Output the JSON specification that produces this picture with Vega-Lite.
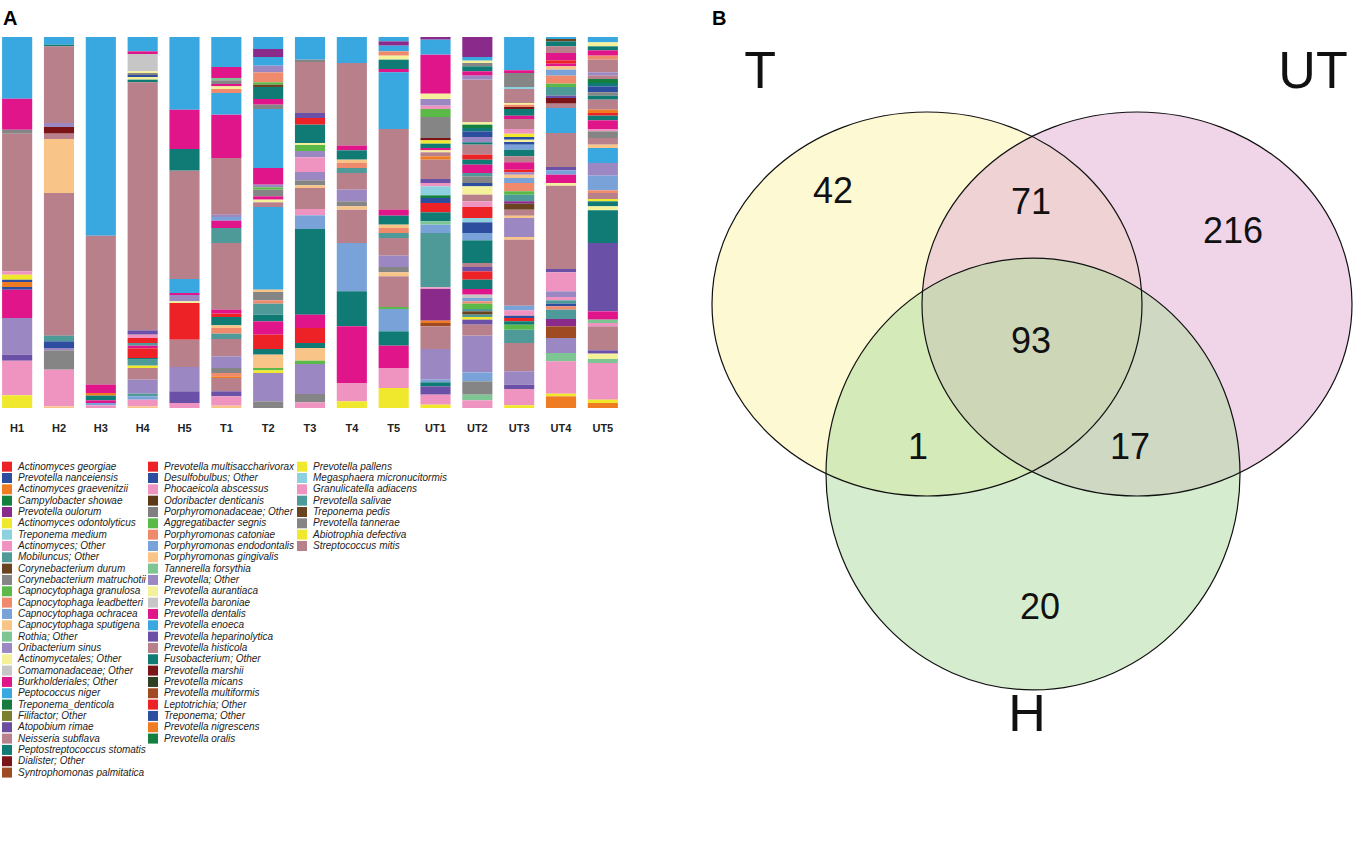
{
"$schema": "https://vega.github.io/schema/vega-lite/v6.json",
"background": "white",
"padding": {"left": 0, "top": 9, "right": 0, "bottom": 0},
"spacing": 80,
"config": {"view": {"stroke": null}, "font": "Arial, Liberation Sans, sans-serif"},
"datasets": {
"taxa": [
{"k":1,"t":"Actinomyces georgiae"},{"k":2,"t":"Prevotella nanceiensis"},{"k":3,"t":"Actinomyces graevenitzii"},{"k":4,"t":"Campylobacter showae"},{"k":5,"t":"Prevotella oulorum"},{"k":6,"t":"Actinomyces odontolyticus"},{"k":7,"t":"Treponema medium"},{"k":8,"t":"Actinomyces; Other"},{"k":9,"t":"Mobiluncus; Other"},{"k":10,"t":"Corynebacterium durum"},{"k":11,"t":"Corynebacterium matruchotii"},{"k":12,"t":"Capnocytophaga granulosa"},{"k":13,"t":"Capnocytophaga leadbetteri"},{"k":14,"t":"Capnocytophaga ochracea"},{"k":15,"t":"Capnocytophaga sputigena"},{"k":16,"t":"Rothia; Other"},{"k":17,"t":"Oribacterium sinus"},{"k":18,"t":"Actinomycetales; Other"},{"k":19,"t":"Comamonadaceae; Other"},{"k":20,"t":"Burkholderiales; Other"},{"k":21,"t":"Peptococcus niger"},{"k":22,"t":"Treponema_denticola"},{"k":23,"t":"Filifactor; Other"},{"k":24,"t":"Atopobium rimae"},{"k":25,"t":"Neisseria subflava"},{"k":26,"t":"Peptostreptococcus stomatis"},{"k":27,"t":"Dialister; Other"},{"k":28,"t":"Syntrophomonas palmitatica"},
{"k":29,"t":"Prevotella multisaccharivorax"},{"k":30,"t":"Desulfobulbus; Other"},{"k":31,"t":"Phocaeicola abscessus"},{"k":32,"t":"Odoribacter denticanis"},{"k":33,"t":"Porphyromonadaceae; Other"},{"k":34,"t":"Aggregatibacter segnis"},{"k":35,"t":"Porphyromonas catoniae"},{"k":36,"t":"Porphyromonas endodontalis"},{"k":37,"t":"Porphyromonas gingivalis"},{"k":38,"t":"Tannerella forsythia"},{"k":39,"t":"Prevotella; Other"},{"k":40,"t":"Prevotella aurantiaca"},{"k":41,"t":"Prevotella baroniae"},{"k":42,"t":"Prevotella dentalis"},{"k":43,"t":"Prevotella enoeca"},{"k":44,"t":"Prevotella heparinolytica"},{"k":45,"t":"Prevotella histicola"},{"k":46,"t":"Fusobacterium; Other"},{"k":47,"t":"Prevotella marshii"},{"k":48,"t":"Prevotella micans"},{"k":49,"t":"Prevotella multiformis"},{"k":50,"t":"Leptotrichia; Other"},{"k":51,"t":"Treponema; Other"},{"k":52,"t":"Prevotella nigrescens"},{"k":53,"t":"Prevotella oralis"},
{"k":54,"t":"Prevotella pallens"},{"k":55,"t":"Megasphaera micronucitormis"},{"k":56,"t":"Granulicatella adiacens"},{"k":57,"t":"Prevotella salivae"},{"k":58,"t":"Treponema pedis"},{"k":59,"t":"Prevotella tannerae"},{"k":60,"t":"Abiotrophia defectiva"},{"k":61,"t":"Streptococcus mitis"}
],
"bars": [
{"s":"H1","i":0,"t":"Prevotella enoeca","v":185},{"s":"H1","i":1,"t":"Prevotella dentalis","v":93},{"s":"H1","i":2,"t":"Prevotella tannerae","v":12},{"s":"H1","i":3,"t":"Streptococcus mitis","v":413},{"s":"H1","i":4,"t":"Granulicatella adiacens","v":10},{"s":"H1","i":5,"t":"Prevotella pallens","v":15},{"s":"H1","i":6,"t":"Treponema; Other","v":7},{"s":"H1","i":7,"t":"Prevotella nigrescens","v":15},{"s":"H1","i":8,"t":"Treponema; Other","v":8},{"s":"H1","i":9,"t":"Prevotella dentalis","v":85},{"s":"H1","i":10,"t":"Prevotella; Other","v":110},{"s":"H1","i":11,"t":"Prevotella heparinolytica","v":18},{"s":"H1","i":12,"t":"Granulicatella adiacens","v":104},{"s":"H1","i":13,"t":"Prevotella pallens","v":38},
{"s":"H2","i":0,"t":"Prevotella enoeca","v":23},{"s":"H2","i":1,"t":"Fusobacterium; Other","v":5},{"s":"H2","i":2,"t":"Streptococcus mitis","v":230},{"s":"H2","i":3,"t":"Prevotella; Other","v":12},{"s":"H2","i":4,"t":"Prevotella marshii","v":20},{"s":"H2","i":5,"t":"Streptococcus mitis","v":16},{"s":"H2","i":6,"t":"Porphyromonas gingivalis","v":162},{"s":"H2","i":7,"t":"Streptococcus mitis","v":428},{"s":"H2","i":8,"t":"Prevotella salivae","v":17},{"s":"H2","i":9,"t":"Treponema; Other","v":20},{"s":"H2","i":10,"t":"Prevotella; Other","v":7},{"s":"H2","i":11,"t":"Prevotella tannerae","v":58},{"s":"H2","i":12,"t":"Granulicatella adiacens","v":110},{"s":"H2","i":13,"t":"Porphyromonas gingivalis","v":5},
{"s":"H3","i":0,"t":"Prevotella enoeca","v":596},{"s":"H3","i":1,"t":"Streptococcus mitis","v":447},{"s":"H3","i":2,"t":"Prevotella dentalis","v":25},{"s":"H3","i":3,"t":"Prevotella nigrescens","v":8},{"s":"H3","i":4,"t":"Fusobacterium; Other","v":14},{"s":"H3","i":5,"t":"Prevotella dentalis","v":8},{"s":"H3","i":6,"t":"Porphyromonas endodontalis","v":7},{"s":"H3","i":7,"t":"Granulicatella adiacens","v":8},
{"s":"H4","i":0,"t":"Prevotella enoeca","v":43},{"s":"H4","i":1,"t":"Prevotella dentalis","v":8},{"s":"H4","i":2,"t":"Prevotella baroniae","v":52},{"s":"H4","i":3,"t":"Prevotella aurantiaca","v":5},{"s":"H4","i":4,"t":"Prevotella tannerae","v":6},{"s":"H4","i":5,"t":"Treponema; Other","v":6},{"s":"H4","i":6,"t":"Prevotella aurantiaca","v":8},{"s":"H4","i":7,"t":"Fusobacterium; Other","v":8},{"s":"H4","i":8,"t":"Streptococcus mitis","v":744},{"s":"H4","i":9,"t":"Prevotella heparinolytica","v":13},{"s":"H4","i":10,"t":"Granulicatella adiacens","v":10},{"s":"H4","i":11,"t":"Leptotrichia; Other","v":15},{"s":"H4","i":12,"t":"Prevotella salivae","v":8},{"s":"H4","i":13,"t":"Prevotella dentalis","v":8},{"s":"H4","i":14,"t":"Leptotrichia; Other","v":29},{"s":"H4","i":15,"t":"Fusobacterium; Other","v":5},{"s":"H4","i":16,"t":"Prevotella salivae","v":18},{"s":"H4","i":17,"t":"Prevotella pallens","v":7},{"s":"H4","i":18,"t":"Streptococcus mitis","v":35},{"s":"H4","i":19,"t":"Prevotella; Other","v":42},{"s":"H4","i":20,"t":"Prevotella salivae","v":8},{"s":"H4","i":21,"t":"Porphyromonas endodontalis","v":10},{"s":"H4","i":22,"t":"Granulicatella adiacens","v":20},{"s":"H4","i":23,"t":"Porphyromonas gingivalis","v":5},
{"s":"H5","i":0,"t":"Prevotella enoeca","v":218},{"s":"H5","i":1,"t":"Prevotella dentalis","v":118},{"s":"H5","i":2,"t":"Fusobacterium; Other","v":65},{"s":"H5","i":3,"t":"Streptococcus mitis","v":325},{"s":"H5","i":4,"t":"Prevotella enoeca","v":42},{"s":"H5","i":5,"t":"Prevotella dentalis","v":6},{"s":"H5","i":6,"t":"Prevotella; Other","v":19},{"s":"H5","i":7,"t":"Prevotella aurantiaca","v":5},{"s":"H5","i":8,"t":"Leptotrichia; Other","v":110},{"s":"H5","i":9,"t":"Streptococcus mitis","v":82},{"s":"H5","i":10,"t":"Prevotella; Other","v":73},{"s":"H5","i":11,"t":"Prevotella heparinolytica","v":35},{"s":"H5","i":12,"t":"Granulicatella adiacens","v":15},
{"s":"T1","i":0,"t":"Prevotella enoeca","v":90},{"s":"T1","i":1,"t":"Prevotella dentalis","v":33},{"s":"T1","i":2,"t":"Tannerella forsythia","v":7},{"s":"T1","i":3,"t":"Prevotella tannerae","v":11},{"s":"T1","i":4,"t":"Prevotella dentalis","v":7},{"s":"T1","i":5,"t":"Prevotella aurantiaca","v":8},{"s":"T1","i":6,"t":"Porphyromonas catoniae","v":12},{"s":"T1","i":7,"t":"Prevotella enoeca","v":65},{"s":"T1","i":8,"t":"Prevotella dentalis","v":130},{"s":"T1","i":9,"t":"Streptococcus mitis","v":170},{"s":"T1","i":10,"t":"Prevotella; Other","v":7},{"s":"T1","i":11,"t":"Porphyromonas endodontalis","v":11},{"s":"T1","i":12,"t":"Prevotella dentalis","v":22},{"s":"T1","i":13,"t":"Prevotella salivae","v":45},{"s":"T1","i":14,"t":"Streptococcus mitis","v":200},{"s":"T1","i":15,"t":"Prevotella dentalis","v":12},{"s":"T1","i":16,"t":"Leptotrichia; Other","v":10},{"s":"T1","i":17,"t":"Fusobacterium; Other","v":25},{"s":"T1","i":18,"t":"Porphyromonas gingivalis","v":8},{"s":"T1","i":19,"t":"Porphyromonas catoniae","v":17},{"s":"T1","i":20,"t":"Prevotella salivae","v":16},{"s":"T1","i":21,"t":"Streptococcus mitis","v":52},{"s":"T1","i":22,"t":"Prevotella; Other","v":35},{"s":"T1","i":23,"t":"Prevotella tannerae","v":15},{"s":"T1","i":24,"t":"Porphyromonas catoniae","v":10},{"s":"T1","i":25,"t":"Prevotella nigrescens","v":5},{"s":"T1","i":26,"t":"Streptococcus mitis","v":40},{"s":"T1","i":27,"t":"Prevotella heparinolytica","v":15},{"s":"T1","i":28,"t":"Granulicatella adiacens","v":28},{"s":"T1","i":29,"t":"Porphyromonas gingivalis","v":7},
{"s":"T2","i":0,"t":"Prevotella enoeca","v":36},{"s":"T2","i":1,"t":"Prevotella oulorum","v":24},{"s":"T2","i":2,"t":"Prevotella enoeca","v":26},{"s":"T2","i":3,"t":"Prevotella; Other","v":20},{"s":"T2","i":4,"t":"Porphyromonas catoniae","v":30},{"s":"T2","i":5,"t":"Aggregatibacter segnis","v":7},{"s":"T2","i":6,"t":"Treponema pedis","v":7},{"s":"T2","i":7,"t":"Fusobacterium; Other","v":36},{"s":"T2","i":8,"t":"Prevotella dentalis","v":17},{"s":"T2","i":9,"t":"Prevotella tannerae","v":13},{"s":"T2","i":10,"t":"Prevotella enoeca","v":177},{"s":"T2","i":11,"t":"Prevotella dentalis","v":50},{"s":"T2","i":12,"t":"Prevotella; Other","v":8},{"s":"T2","i":13,"t":"Aggregatibacter segnis","v":7},{"s":"T2","i":14,"t":"Prevotella tannerae","v":20},{"s":"T2","i":15,"t":"Prevotella dentalis","v":10},{"s":"T2","i":16,"t":"Prevotella aurantiaca","v":8},{"s":"T2","i":17,"t":"Streptococcus mitis","v":14},{"s":"T2","i":18,"t":"Prevotella enoeca","v":248},{"s":"T2","i":19,"t":"Porphyromonas gingivalis","v":7},{"s":"T2","i":20,"t":"Prevotella tannerae","v":25},{"s":"T2","i":21,"t":"Porphyromonas catoniae","v":10},{"s":"T2","i":22,"t":"Prevotella salivae","v":33},{"s":"T2","i":23,"t":"Fusobacterium; Other","v":20},{"s":"T2","i":24,"t":"Prevotella dentalis","v":40},{"s":"T2","i":25,"t":"Leptotrichia; Other","v":43},{"s":"T2","i":26,"t":"Fusobacterium; Other","v":17},{"s":"T2","i":27,"t":"Porphyromonas gingivalis","v":40},{"s":"T2","i":28,"t":"Aggregatibacter segnis","v":7},{"s":"T2","i":29,"t":"Prevotella pallens","v":8},{"s":"T2","i":30,"t":"Prevotella; Other","v":85},{"s":"T2","i":31,"t":"Prevotella tannerae","v":20},
{"s":"T3","i":0,"t":"Prevotella enoeca","v":68},{"s":"T3","i":1,"t":"Prevotella tannerae","v":7},{"s":"T3","i":2,"t":"Streptococcus mitis","v":153},{"s":"T3","i":3,"t":"Prevotella heparinolytica","v":15},{"s":"T3","i":4,"t":"Leptotrichia; Other","v":20},{"s":"T3","i":5,"t":"Fusobacterium; Other","v":55},{"s":"T3","i":6,"t":"Prevotella aurantiaca","v":6},{"s":"T3","i":7,"t":"Aggregatibacter segnis","v":18},{"s":"T3","i":8,"t":"Prevotella; Other","v":19},{"s":"T3","i":9,"t":"Granulicatella adiacens","v":44},{"s":"T3","i":10,"t":"Prevotella; Other","v":25},{"s":"T3","i":11,"t":"Prevotella tannerae","v":15},{"s":"T3","i":12,"t":"Porphyromonas gingivalis","v":8},{"s":"T3","i":13,"t":"Streptococcus mitis","v":63},{"s":"T3","i":14,"t":"Granulicatella adiacens","v":19},{"s":"T3","i":15,"t":"Porphyromonas endodontalis","v":41},{"s":"T3","i":16,"t":"Fusobacterium; Other","v":257},{"s":"T3","i":17,"t":"Prevotella dentalis","v":40},{"s":"T3","i":18,"t":"Leptotrichia; Other","v":45},{"s":"T3","i":19,"t":"Fusobacterium; Other","v":15},{"s":"T3","i":20,"t":"Porphyromonas gingivalis","v":38},{"s":"T3","i":21,"t":"Aggregatibacter segnis","v":10},{"s":"T3","i":22,"t":"Prevotella; Other","v":90},{"s":"T3","i":23,"t":"Prevotella tannerae","v":25},{"s":"T3","i":24,"t":"Granulicatella adiacens","v":17},
{"s":"T4","i":0,"t":"Prevotella enoeca","v":78},{"s":"T4","i":1,"t":"Streptococcus mitis","v":248},{"s":"T4","i":2,"t":"Prevotella dentalis","v":14},{"s":"T4","i":3,"t":"Fusobacterium; Other","v":28},{"s":"T4","i":4,"t":"Porphyromonas gingivalis","v":10},{"s":"T4","i":5,"t":"Porphyromonas catoniae","v":15},{"s":"T4","i":6,"t":"Prevotella salivae","v":15},{"s":"T4","i":7,"t":"Streptococcus mitis","v":50},{"s":"T4","i":8,"t":"Prevotella; Other","v":35},{"s":"T4","i":9,"t":"Prevotella tannerae","v":15},{"s":"T4","i":10,"t":"Porphyromonas gingivalis","v":10},{"s":"T4","i":11,"t":"Streptococcus mitis","v":100},{"s":"T4","i":12,"t":"Porphyromonas endodontalis","v":145},{"s":"T4","i":13,"t":"Fusobacterium; Other","v":105},{"s":"T4","i":14,"t":"Prevotella dentalis","v":170},{"s":"T4","i":15,"t":"Granulicatella adiacens","v":55},{"s":"T4","i":16,"t":"Prevotella pallens","v":20},
{"s":"T5","i":0,"t":"Prevotella enoeca","v":13},{"s":"T5","i":1,"t":"Prevotella oulorum","v":13},{"s":"T5","i":2,"t":"Prevotella enoeca","v":17},{"s":"T5","i":3,"t":"Porphyromonas catoniae","v":13},{"s":"T5","i":4,"t":"Prevotella aurantiaca","v":12},{"s":"T5","i":5,"t":"Fusobacterium; Other","v":28},{"s":"T5","i":6,"t":"Prevotella dentalis","v":10},{"s":"T5","i":7,"t":"Prevotella enoeca","v":170},{"s":"T5","i":8,"t":"Streptococcus mitis","v":242},{"s":"T5","i":9,"t":"Prevotella dentalis","v":18},{"s":"T5","i":10,"t":"Fusobacterium; Other","v":27},{"s":"T5","i":11,"t":"Porphyromonas gingivalis","v":10},{"s":"T5","i":12,"t":"Porphyromonas catoniae","v":15},{"s":"T5","i":13,"t":"Prevotella salivae","v":15},{"s":"T5","i":14,"t":"Streptococcus mitis","v":53},{"s":"T5","i":15,"t":"Prevotella; Other","v":34},{"s":"T5","i":16,"t":"Prevotella tannerae","v":16},{"s":"T5","i":17,"t":"Porphyromonas gingivalis","v":12},{"s":"T5","i":18,"t":"Streptococcus mitis","v":92},{"s":"T5","i":19,"t":"Aggregatibacter segnis","v":6},{"s":"T5","i":20,"t":"Porphyromonas endodontalis","v":67},{"s":"T5","i":21,"t":"Fusobacterium; Other","v":43},{"s":"T5","i":22,"t":"Prevotella dentalis","v":67},{"s":"T5","i":23,"t":"Granulicatella adiacens","v":60},{"s":"T5","i":24,"t":"Prevotella pallens","v":60},
{"s":"UT1","i":0,"t":"Prevotella oulorum","v":8},{"s":"UT1","i":1,"t":"Prevotella enoeca","v":45},{"s":"UT1","i":2,"t":"Prevotella dentalis","v":117},{"s":"UT1","i":3,"t":"Prevotella aurantiaca","v":16},{"s":"UT1","i":4,"t":"Prevotella; Other","v":20},{"s":"UT1","i":5,"t":"Granulicatella adiacens","v":10},{"s":"UT1","i":6,"t":"Aggregatibacter segnis","v":24},{"s":"UT1","i":7,"t":"Prevotella tannerae","v":63},{"s":"UT1","i":8,"t":"Prevotella marshii","v":7},{"s":"UT1","i":9,"t":"Prevotella pallens","v":10},{"s":"UT1","i":10,"t":"Fusobacterium; Other","v":13},{"s":"UT1","i":11,"t":"Prevotella dentalis","v":7},{"s":"UT1","i":12,"t":"Prevotella aurantiaca","v":6},{"s":"UT1","i":13,"t":"Streptococcus mitis","v":12},{"s":"UT1","i":14,"t":"Prevotella nigrescens","v":10},{"s":"UT1","i":15,"t":"Streptococcus mitis","v":58},{"s":"UT1","i":16,"t":"Prevotella heparinolytica","v":12},{"s":"UT1","i":17,"t":"Granulicatella adiacens","v":10},{"s":"UT1","i":18,"t":"Megasphaera micronucitormis","v":27},{"s":"UT1","i":19,"t":"Prevotella oralis","v":8},{"s":"UT1","i":20,"t":"Treponema; Other","v":15},{"s":"UT1","i":21,"t":"Leptotrichia; Other","v":28},{"s":"UT1","i":22,"t":"Fusobacterium; Other","v":27},{"s":"UT1","i":23,"t":"Tannerella forsythia","v":10},{"s":"UT1","i":24,"t":"Porphyromonas endodontalis","v":25},{"s":"UT1","i":25,"t":"Prevotella salivae","v":163},{"s":"UT1","i":26,"t":"Granulicatella adiacens","v":5},{"s":"UT1","i":27,"t":"Prevotella oulorum","v":95},{"s":"UT1","i":28,"t":"Prevotella nigrescens","v":7},{"s":"UT1","i":29,"t":"Prevotella multiformis","v":10},{"s":"UT1","i":30,"t":"Streptococcus mitis","v":68},{"s":"UT1","i":31,"t":"Prevotella; Other","v":92},{"s":"UT1","i":32,"t":"Porphyromonas endodontalis","v":8},{"s":"UT1","i":33,"t":"Fusobacterium; Other","v":12},{"s":"UT1","i":34,"t":"Prevotella heparinolytica","v":25},{"s":"UT1","i":35,"t":"Granulicatella adiacens","v":30},{"s":"UT1","i":36,"t":"Prevotella pallens","v":10},
{"s":"UT2","i":0,"t":"Prevotella oulorum","v":60},{"s":"UT2","i":1,"t":"Prevotella enoeca","v":11},{"s":"UT2","i":2,"t":"Prevotella aurantiaca","v":7},{"s":"UT2","i":3,"t":"Prevotella tannerae","v":10},{"s":"UT2","i":4,"t":"Fusobacterium; Other","v":15},{"s":"UT2","i":5,"t":"Prevotella dentalis","v":13},{"s":"UT2","i":6,"t":"Prevotella; Other","v":12},{"s":"UT2","i":7,"t":"Streptococcus mitis","v":128},{"s":"UT2","i":8,"t":"Prevotella aurantiaca","v":7},{"s":"UT2","i":9,"t":"Prevotella oralis","v":10},{"s":"UT2","i":10,"t":"Fusobacterium; Other","v":10},{"s":"UT2","i":11,"t":"Treponema; Other","v":17},{"s":"UT2","i":12,"t":"Prevotella; Other","v":16},{"s":"UT2","i":13,"t":"Fusobacterium; Other","v":7},{"s":"UT2","i":14,"t":"Streptococcus mitis","v":30},{"s":"UT2","i":15,"t":"Leptotrichia; Other","v":15},{"s":"UT2","i":16,"t":"Fusobacterium; Other","v":15},{"s":"UT2","i":17,"t":"Prevotella dentalis","v":25},{"s":"UT2","i":18,"t":"Prevotella salivae","v":10},{"s":"UT2","i":19,"t":"Prevotella tannerae","v":20},{"s":"UT2","i":20,"t":"Treponema; Other","v":10},{"s":"UT2","i":21,"t":"Prevotella aurantiaca","v":25},{"s":"UT2","i":22,"t":"Streptococcus mitis","v":20},{"s":"UT2","i":23,"t":"Granulicatella adiacens","v":17},{"s":"UT2","i":24,"t":"Leptotrichia; Other","v":33},{"s":"UT2","i":25,"t":"Megasphaera micronucitormis","v":13},{"s":"UT2","i":26,"t":"Treponema; Other","v":32},{"s":"UT2","i":27,"t":"Porphyromonas endodontalis","v":22},{"s":"UT2","i":28,"t":"Fusobacterium; Other","v":68},{"s":"UT2","i":29,"t":"Streptococcus mitis","v":12},{"s":"UT2","i":30,"t":"Prevotella heparinolytica","v":13},{"s":"UT2","i":31,"t":"Leptotrichia; Other","v":25},{"s":"UT2","i":32,"t":"Fusobacterium; Other","v":28},{"s":"UT2","i":33,"t":"Prevotella dentalis","v":17},{"s":"UT2","i":34,"t":"Prevotella baroniae","v":10},{"s":"UT2","i":35,"t":"Porphyromonas endodontalis","v":10},{"s":"UT2","i":36,"t":"Porphyromonas catoniae","v":7},{"s":"UT2","i":37,"t":"Aggregatibacter segnis","v":16},{"s":"UT2","i":38,"t":"Prevotella salivae","v":7},{"s":"UT2","i":39,"t":"Treponema pedis","v":10},{"s":"UT2","i":40,"t":"Prevotella salivae","v":7},{"s":"UT2","i":41,"t":"Prevotella pallens","v":8},{"s":"UT2","i":42,"t":"Prevotella heparinolytica","v":15},{"s":"UT2","i":43,"t":"Streptococcus mitis","v":33},{"s":"UT2","i":44,"t":"Prevotella; Other","v":110},{"s":"UT2","i":45,"t":"Porphyromonas endodontalis","v":27},{"s":"UT2","i":46,"t":"Prevotella tannerae","v":40},{"s":"UT2","i":47,"t":"Tannerella forsythia","v":17},{"s":"UT2","i":48,"t":"Granulicatella adiacens","v":23},
{"s":"UT3","i":0,"t":"Prevotella enoeca","v":100},{"s":"UT3","i":1,"t":"Prevotella dentalis","v":8},{"s":"UT3","i":2,"t":"Prevotella tannerae","v":42},{"s":"UT3","i":3,"t":"Megasphaera micronucitormis","v":6},{"s":"UT3","i":4,"t":"Streptococcus mitis","v":42},{"s":"UT3","i":5,"t":"Prevotella aurantiaca","v":5},{"s":"UT3","i":6,"t":"Porphyromonas catoniae","v":7},{"s":"UT3","i":7,"t":"Prevotella marshii","v":6},{"s":"UT3","i":8,"t":"Fusobacterium; Other","v":20},{"s":"UT3","i":9,"t":"Prevotella dentalis","v":10},{"s":"UT3","i":10,"t":"Streptococcus mitis","v":30},{"s":"UT3","i":11,"t":"Granulicatella adiacens","v":14},{"s":"UT3","i":12,"t":"Prevotella pallens","v":10},{"s":"UT3","i":13,"t":"Treponema; Other","v":8},{"s":"UT3","i":14,"t":"Prevotella aurantiaca","v":7},{"s":"UT3","i":15,"t":"Treponema; Other","v":8},{"s":"UT3","i":16,"t":"Porphyromonas endodontalis","v":15},{"s":"UT3","i":17,"t":"Fusobacterium; Other","v":20},{"s":"UT3","i":18,"t":"Streptococcus mitis","v":18},{"s":"UT3","i":19,"t":"Prevotella dentalis","v":22},{"s":"UT3","i":20,"t":"Leptotrichia; Other","v":8},{"s":"UT3","i":21,"t":"Prevotella; Other","v":7},{"s":"UT3","i":22,"t":"Porphyromonas gingivalis","v":10},{"s":"UT3","i":23,"t":"Porphyromonas endodontalis","v":15},{"s":"UT3","i":24,"t":"Porphyromonas catoniae","v":25},{"s":"UT3","i":25,"t":"Aggregatibacter segnis","v":10},{"s":"UT3","i":26,"t":"Prevotella salivae","v":20},{"s":"UT3","i":27,"t":"Prevotella oulorum","v":7},{"s":"UT3","i":28,"t":"Treponema pedis","v":18},{"s":"UT3","i":29,"t":"Streptococcus mitis","v":18},{"s":"UT3","i":30,"t":"Porphyromonas gingivalis","v":7},{"s":"UT3","i":31,"t":"Prevotella; Other","v":57},{"s":"UT3","i":32,"t":"Porphyromonas gingivalis","v":8},{"s":"UT3","i":33,"t":"Streptococcus mitis","v":198},{"s":"UT3","i":34,"t":"Porphyromonas endodontalis","v":14},{"s":"UT3","i":35,"t":"Granulicatella adiacens","v":16},{"s":"UT3","i":36,"t":"Treponema; Other","v":7},{"s":"UT3","i":37,"t":"Leptotrichia; Other","v":10},{"s":"UT3","i":38,"t":"Fusobacterium; Other","v":10},{"s":"UT3","i":39,"t":"Aggregatibacter segnis","v":15},{"s":"UT3","i":40,"t":"Prevotella salivae","v":40},{"s":"UT3","i":41,"t":"Streptococcus mitis","v":85},{"s":"UT3","i":42,"t":"Prevotella; Other","v":40},{"s":"UT3","i":43,"t":"Prevotella heparinolytica","v":13},{"s":"UT3","i":44,"t":"Granulicatella adiacens","v":49},{"s":"UT3","i":45,"t":"Prevotella pallens","v":8},
{"s":"UT4","i":0,"t":"Prevotella enoeca","v":6},{"s":"UT4","i":1,"t":"Treponema pedis","v":7},{"s":"UT4","i":2,"t":"Fusobacterium; Other","v":15},{"s":"UT4","i":3,"t":"Streptococcus mitis","v":20},{"s":"UT4","i":4,"t":"Prevotella dentalis","v":22},{"s":"UT4","i":5,"t":"Leptotrichia; Other","v":10},{"s":"UT4","i":6,"t":"Prevotella dentalis","v":8},{"s":"UT4","i":7,"t":"Porphyromonas gingivalis","v":10},{"s":"UT4","i":8,"t":"Porphyromonas endodontalis","v":18},{"s":"UT4","i":9,"t":"Porphyromonas catoniae","v":24},{"s":"UT4","i":10,"t":"Aggregatibacter segnis","v":10},{"s":"UT4","i":11,"t":"Prevotella salivae","v":26},{"s":"UT4","i":12,"t":"Prevotella heparinolytica","v":7},{"s":"UT4","i":13,"t":"Prevotella marshii","v":17},{"s":"UT4","i":14,"t":"Streptococcus mitis","v":13},{"s":"UT4","i":15,"t":"Prevotella enoeca","v":75},{"s":"UT4","i":16,"t":"Streptococcus mitis","v":102},{"s":"UT4","i":17,"t":"Prevotella heparinolytica","v":10},{"s":"UT4","i":18,"t":"Porphyromonas endodontalis","v":13},{"s":"UT4","i":19,"t":"Prevotella dentalis","v":25},{"s":"UT4","i":20,"t":"Prevotella aurantiaca","v":8},{"s":"UT4","i":21,"t":"Streptococcus mitis","v":250},{"s":"UT4","i":22,"t":"Prevotella heparinolytica","v":10},{"s":"UT4","i":23,"t":"Granulicatella adiacens","v":57},{"s":"UT4","i":24,"t":"Prevotella; Other","v":17},{"s":"UT4","i":25,"t":"Granulicatella adiacens","v":10},{"s":"UT4","i":26,"t":"Prevotella salivae","v":10},{"s":"UT4","i":27,"t":"Treponema; Other","v":8},{"s":"UT4","i":28,"t":"Porphyromonas catoniae","v":10},{"s":"UT4","i":29,"t":"Prevotella salivae","v":28},{"s":"UT4","i":30,"t":"Prevotella oulorum","v":22},{"s":"UT4","i":31,"t":"Prevotella multiformis","v":35},{"s":"UT4","i":32,"t":"Prevotella; Other","v":45},{"s":"UT4","i":33,"t":"Tannerella forsythia","v":25},{"s":"UT4","i":34,"t":"Granulicatella adiacens","v":97},{"s":"UT4","i":35,"t":"Prevotella pallens","v":8},{"s":"UT4","i":36,"t":"Prevotella nigrescens","v":35},
{"s":"UT5","i":0,"t":"Prevotella enoeca","v":16},{"s":"UT5","i":1,"t":"Prevotella aurantiaca","v":12},{"s":"UT5","i":2,"t":"Fusobacterium; Other","v":12},{"s":"UT5","i":3,"t":"Prevotella dentalis","v":16},{"s":"UT5","i":4,"t":"Porphyromonas catoniae","v":12},{"s":"UT5","i":5,"t":"Streptococcus mitis","v":38},{"s":"UT5","i":6,"t":"Prevotella; Other","v":10},{"s":"UT5","i":7,"t":"Streptococcus mitis","v":10},{"s":"UT5","i":8,"t":"Prevotella oralis","v":12},{"s":"UT5","i":9,"t":"Fusobacterium; Other","v":10},{"s":"UT5","i":10,"t":"Treponema; Other","v":18},{"s":"UT5","i":11,"t":"Prevotella tannerae","v":10},{"s":"UT5","i":12,"t":"Fusobacterium; Other","v":12},{"s":"UT5","i":13,"t":"Streptococcus mitis","v":30},{"s":"UT5","i":14,"t":"Prevotella nigrescens","v":10},{"s":"UT5","i":15,"t":"Leptotrichia; Other","v":8},{"s":"UT5","i":16,"t":"Fusobacterium; Other","v":14},{"s":"UT5","i":17,"t":"Prevotella dentalis","v":26},{"s":"UT5","i":18,"t":"Granulicatella adiacens","v":7},{"s":"UT5","i":19,"t":"Prevotella tannerae","v":20},{"s":"UT5","i":20,"t":"Streptococcus mitis","v":20},{"s":"UT5","i":21,"t":"Porphyromonas gingivalis","v":10},{"s":"UT5","i":22,"t":"Prevotella enoeca","v":45},{"s":"UT5","i":23,"t":"Prevotella; Other","v":38},{"s":"UT5","i":24,"t":"Porphyromonas endodontalis","v":44},{"s":"UT5","i":25,"t":"Porphyromonas catoniae","v":8},{"s":"UT5","i":26,"t":"Streptococcus mitis","v":18},{"s":"UT5","i":27,"t":"Prevotella pallens","v":7},{"s":"UT5","i":28,"t":"Fusobacterium; Other","v":15},{"s":"UT5","i":29,"t":"Prevotella aurantiaca","v":12},{"s":"UT5","i":30,"t":"Fusobacterium; Other","v":98},{"s":"UT5","i":31,"t":"Prevotella heparinolytica","v":205},{"s":"UT5","i":32,"t":"Prevotella dentalis","v":25},{"s":"UT5","i":33,"t":"Tannerella forsythia","v":10},{"s":"UT5","i":34,"t":"Granulicatella adiacens","v":10},{"s":"UT5","i":35,"t":"Streptococcus mitis","v":72},{"s":"UT5","i":36,"t":"Prevotella heparinolytica","v":10},{"s":"UT5","i":37,"t":"Prevotella aurantiaca","v":16},{"s":"UT5","i":38,"t":"Tannerella forsythia","v":12},{"s":"UT5","i":39,"t":"Granulicatella adiacens","v":110},{"s":"UT5","i":40,"t":"Prevotella pallens","v":10},{"s":"UT5","i":41,"t":"Prevotella nigrescens","v":15}
],
"sets": [
{"set":"T","x":227,"y":267},{"set":"UT","x":437,"y":267},{"set":"H","x":333,"y":437}
],
"setlabels": [
{"label":"T","x":60,"y":35},{"label":"UT","x":613,"y":35},{"label":"H","x":327,"y":678}
],
"counts": [
{"region":"T only","n":42,"x":133,"y":155},{"region":"T and UT","n":71,"x":331,"y":166},{"region":"UT only","n":216,"x":533,"y":195},{"region":"T, UT and H","n":93,"x":331,"y":305},{"region":"T and H","n":1,"x":218,"y":411},{"region":"UT and H","n":17,"x":430,"y":411},{"region":"H only","n":20,"x":340,"y":571}
]
},
"hconcat": [
{
"spacing": 28,
"vconcat": [
{
"data": {"name": "bars"},
"width": 620,
"height": 371,
"title": {"text": "A", "anchor": "start", "fontSize": 20, "fontWeight": "bold", "font": "Arial, Liberation Sans, sans-serif", "offset": 8, "dx": 3, "color": "#000"},
"mark": {"type": "bar"},
"encoding": {
"x": {"field": "s", "type": "nominal", "sort": ["H1","H2","H3","H4","H5","T1","T2","T3","T4","T5","UT1","UT2","UT3","UT4","UT5"], "scale": {"paddingInner": 0.28, "paddingOuter": 0.05}, "axis": {"title": null, "domain": false, "ticks": false, "labelAngle": 0, "labelFontSize": 11, "labelFontWeight": "bold", "labelColor": "#222", "labelPadding": 14}},
"y": {"field": "v", "type": "quantitative", "stack": "normalize", "axis": null},
"order": {"field": "i", "sort": "descending"},
"color": {"field": "t", "type": "nominal", "legend": null, "scale": {
"domain": ["Actinomyces georgiae","Prevotella nanceiensis","Actinomyces graevenitzii","Campylobacter showae","Prevotella oulorum","Actinomyces odontolyticus","Treponema medium","Actinomyces; Other","Mobiluncus; Other","Corynebacterium durum","Corynebacterium matruchotii","Capnocytophaga granulosa","Capnocytophaga leadbetteri","Capnocytophaga ochracea","Capnocytophaga sputigena","Rothia; Other","Oribacterium sinus","Actinomycetales; Other","Comamonadaceae; Other","Burkholderiales; Other","Peptococcus niger","Treponema_denticola","Filifactor; Other","Atopobium rimae","Neisseria subflava","Peptostreptococcus stomatis","Dialister; Other","Syntrophomonas palmitatica","Prevotella multisaccharivorax","Desulfobulbus; Other","Phocaeicola abscessus","Odoribacter denticanis","Porphyromonadaceae; Other","Aggregatibacter segnis","Porphyromonas catoniae","Porphyromonas endodontalis","Porphyromonas gingivalis","Tannerella forsythia","Prevotella; Other","Prevotella aurantiaca","Prevotella baroniae","Prevotella dentalis","Prevotella enoeca","Prevotella heparinolytica","Prevotella histicola","Fusobacterium; Other","Prevotella marshii","Prevotella micans","Prevotella multiformis","Leptotrichia; Other","Treponema; Other","Prevotella nigrescens","Prevotella oralis","Prevotella pallens","Megasphaera micronucitormis","Granulicatella adiacens","Prevotella salivae","Treponema pedis","Prevotella tannerae","Abiotrophia defectiva","Streptococcus mitis"],
"range": ["#ec2227","#2d4e9f","#ef7c22","#14803f","#8a2a8a","#efe82c","#8dd1e1","#ef93c0","#4e9a98","#6a4320","#858585","#5bb947","#f08a6c","#79a3d8","#f9c487","#7dc694","#9b87c2","#f5f09a","#c6c6c6","#e1158a","#39a8e0","#177a3e","#7b7f2e","#6c4c9e","#b8808a","#0f7b74","#7b1416","#9e4a22","#ec2227","#2d4e9f","#ef93c0","#5c3a17","#7f7f7f","#5bb947","#f08a6c","#79a3d8","#f9c487","#7dc694","#9b87c2","#f5f09a","#c6c6c6","#e1158a","#39a8e0","#6a50a7","#b8808a","#0f7b74","#7b1416","#2e3f22","#a04a22","#ec2227","#2d4e9f","#ef7c22","#14803f","#efe82c","#8dd1e1","#ef93c0","#4e9a98","#6a4320","#858585","#efe82c","#b8808a"]}}
}
},
{
"spacing": 0,
"hconcat": [
{
"data": {"name": "taxa"},
"transform": [{"filter": "datum.k <= 28"}],
"width": 14,
"height": {"step": 11.33},
"layer": [
{"mark": {"type": "point", "shape": "square", "filled": true, "size": 100, "opacity": 1}, "encoding": {"y": {"field": "t", "type": "nominal", "sort": {"field": "k", "op": "min"}, "axis": null}, "color": {"field": "t", "type": "nominal", "legend": null}}},
{"mark": {"type": "text", "align": "left", "dx": 11, "fontSize": 10, "fontStyle": "italic", "color": "#1d1d1d"}, "encoding": {"y": {"field": "t", "type": "nominal", "sort": {"field": "k", "op": "min"}, "axis": null}, "text": {"field": "t"}}}
]
},
{
"data": {"name": "taxa"},
"transform": [{"filter": "datum.k > 28 && datum.k <= 53"}],
"width": 14,
"height": {"step": 11.33},
"layer": [
{"mark": {"type": "point", "shape": "square", "filled": true, "size": 100, "opacity": 1}, "encoding": {"y": {"field": "t", "type": "nominal", "sort": {"field": "k", "op": "min"}, "axis": null}, "color": {"field": "t", "type": "nominal", "legend": null}}},
{"mark": {"type": "text", "align": "left", "dx": 11, "fontSize": 10, "fontStyle": "italic", "color": "#1d1d1d"}, "encoding": {"y": {"field": "t", "type": "nominal", "sort": {"field": "k", "op": "min"}, "axis": null}, "text": {"field": "t"}}}
]
},
{
"data": {"name": "taxa"},
"transform": [{"filter": "datum.k > 53"}],
"width": 14,
"height": {"step": 11.33},
"layer": [
{"mark": {"type": "point", "shape": "square", "filled": true, "size": 100, "opacity": 1}, "encoding": {"y": {"field": "t", "type": "nominal", "sort": {"field": "k", "op": "min"}, "axis": null}, "color": {"field": "t", "type": "nominal", "legend": null}}},
{"mark": {"type": "text", "align": "left", "dx": 11, "fontSize": 10, "fontStyle": "italic", "color": "#1d1d1d"}, "encoding": {"y": {"field": "t", "type": "nominal", "sort": {"field": "k", "op": "min"}, "axis": null}, "text": {"field": "t"}}}
]
}
]
}
]
},
{
"width": 659,
"height": 820,
"title": {"text": "B", "anchor": "start", "fontSize": 20, "fontWeight": "bold", "font": "Arial, Liberation Sans, sans-serif", "offset": 8, "dx": 12, "color": "#000"},
"encoding": {
"x": {"field": "x", "type": "quantitative", "scale": {"domain": [0, 659], "nice": false, "zero": false}, "axis": null},
"y": {"field": "y", "type": "quantitative", "scale": {"domain": [0, 820], "nice": false, "zero": false, "reverse": true}, "axis": null}
},
"layer": [
{"data": {"name": "sets"}, "transform": [{"filter": "datum.set != 'H'"}], "mark": {"type": "point", "shape": "M-1,0A1,0.893,0,1,1,1,0A1,0.893,0,1,1,-1,0Z", "filled": true, "size": 184900, "opacity": 1, "strokeWidth": 0}, "encoding": {"fill": {"field": "set", "type": "nominal", "legend": null, "scale": {"domain": ["T","UT","H"], "range": ["rgb(253,249,211)","rgba(226,172,212,0.5)","rgba(172,220,158,0.5)"]}}}},
{"data": {"name": "sets"}, "transform": [{"filter": "datum.set == 'H'"}], "mark": {"type": "point", "shape": "M-1,0A1,1.043,0,1,1,1,0A1,1.043,0,1,1,-1,0Z", "filled": true, "size": 171396, "opacity": 1, "strokeWidth": 0}, "encoding": {"fill": {"field": "set", "type": "nominal", "legend": null}}},
{"data": {"name": "sets"}, "transform": [{"filter": "datum.set != 'H'"}], "mark": {"type": "point", "shape": "M-1,0A1,0.893,0,1,1,1,0A1,0.893,0,1,1,-1,0Z", "filled": false, "size": 184900, "opacity": 1, "stroke": "#111", "strokeWidth": 1.2}},
{"data": {"name": "sets"}, "transform": [{"filter": "datum.set == 'H'"}], "mark": {"type": "point", "shape": "M-1,0A1,1.043,0,1,1,1,0A1,1.043,0,1,1,-1,0Z", "filled": false, "size": 171396, "opacity": 1, "stroke": "#111", "strokeWidth": 1.2}},
{"data": {"name": "counts"}, "mark": {"type": "text", "fontSize": 36, "color": "#111", "baseline": "middle", "align": "center"}, "encoding": {"text": {"field": "n"}}},
{"data": {"name": "setlabels"}, "mark": {"type": "text", "fontSize": 52, "color": "#111", "baseline": "middle", "align": "center"}, "encoding": {"text": {"field": "label"}}}
]
}
]
}
